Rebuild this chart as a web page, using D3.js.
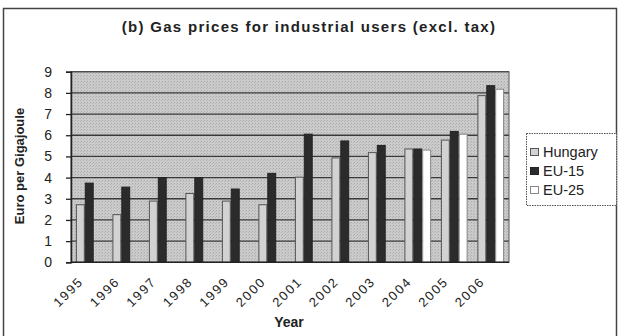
<!DOCTYPE html>
<html><head><meta charset="utf-8">
<script src="https://cdn.jsdelivr.net/npm/d3@7"></script>
<style>body{margin:0;background:#fff;} text{font-family:Arial, "Liberation Sans", sans-serif;}</style>
</head><body>
<svg id="c" width="619" height="336"></svg>
<script>
const years = ["1995","1996","1997","1998","1999","2000","2001","2002","2003","2004","2005","2006"];
const seriesNames = ["Hungary","EU-15","EU-25"];
const hungary = [2.72,2.25,2.89,3.25,2.89,2.72,4.02,4.93,5.18,5.35,5.77,7.87];
const eu15 = [3.74,3.55,4.0,4.0,3.46,4.2,6.05,5.73,5.52,5.35,6.18,8.34];
const eu25 = [null,null,null,null,null,null,null,null,null,5.3,6.05,8.17];
const yTicks = [0,1,2,3,4,5,6,7,8,9];
const title = "(b) Gas prices for industrial users (excl. tax)";
const yTitle = "Euro per Gigajoule";
const xTitle = "Year";

const fills = ["#d2d2d2","#2b2b2b","#ffffff"];
const strokes = ["#555","#222","#888"];
const svg = d3.select("#c");

const defs = svg.append("defs");
const pat = defs.append("pattern").attr("id","bg").attr("width",3).attr("height",3).attr("patternUnits","userSpaceOnUse");
pat.append("rect").attr("width",3).attr("height",3).attr("fill","#cbcbcb");
pat.append("rect").attr("width",1).attr("height",1).attr("fill","#ababab");
pat.append("rect").attr("x",2).attr("y",1).attr("width",1).attr("height",1).attr("fill","#b5b5b5");

svg.append("rect").attr("x",3.5).attr("y",8.5).attr("width",613).attr("height",340)
  .attr("fill","none").attr("stroke","#444").attr("stroke-width",1.5);

const L=71, R=509, T=71.7, B=262.3;
const x = d3.scaleBand().domain(years).range([L,R]).paddingInner(0).paddingOuter(0);
const y = d3.scaleLinear().domain([0,9]).range([B,T]);
const inner = d3.scaleBand().domain(seriesNames).range([0,x.bandwidth()]).paddingInner(0).paddingOuter(0.55);

svg.append("rect").attr("x",L).attr("y",T).attr("width",R-L).attr("height",B-T).attr("fill","url(#bg)");

svg.append("g").selectAll("line").data(yTicks.filter(d=>d>0)).join("line")
  .attr("x1",L).attr("x2",R).attr("y1",d=>y(d)).attr("y2",d=>y(d))
  .attr("stroke","#3a3a3a").attr("stroke-width",1.3);
svg.append("rect").attr("x",L).attr("y",T).attr("width",R-L).attr("height",B-T)
  .attr("fill","none").attr("stroke","#555").attr("stroke-width",1);

const data = [hungary,eu15,eu25];
seriesNames.forEach((s,i)=>{
  svg.append("g").selectAll("rect").data(years.map((yr,j)=>({yr,v:data[i][j]})).filter(d=>d.v!=null)).join("rect")
    .attr("x",d=>x(d.yr)+inner(s)+0.5).attr("width",inner.bandwidth()-1)
    .attr("y",d=>y(d.v)).attr("height",d=>B-y(d.v))
    .attr("fill",fills[i]).attr("stroke",strokes[i]).attr("stroke-width",1);
});

const ya = svg.append("g").attr("transform",`translate(${L},0)`)
  .call(d3.axisLeft(y).tickValues(yTicks).tickSize(5).tickPadding(14).tickFormat(d3.format("d")));
ya.select(".domain").attr("stroke","#222").attr("stroke-width",1.5);
ya.selectAll(".tick line").attr("stroke","#222").attr("stroke-width",1.3);
ya.selectAll("text").attr("font-size",14).attr("fill","#222").attr("font-family","Arial, 'Liberation Sans', sans-serif");

svg.append("line").attr("x1",L).attr("x2",R).attr("y1",B).attr("y2",B).attr("stroke","#222").attr("stroke-width",1.5);

svg.append("g").selectAll("text").data(years).join("text")
  .attr("transform",d=>`translate(${x(d)+x.bandwidth()/2-5},${B+20}) rotate(-45)`)
  .attr("text-anchor","end").attr("font-size",13).attr("letter-spacing","1.8px").attr("fill","#222")
  .text(d=>d);

svg.append("text").attr("x",309).attr("y",32).attr("text-anchor","middle")
  .attr("font-size",15).attr("font-weight","bold").attr("letter-spacing","1.3px").attr("fill","#222").text(title);
svg.append("text").attr("transform",`translate(24,${(T+B)/2-1}) rotate(-90)`).attr("text-anchor","middle")
  .attr("font-size",13).attr("font-weight","bold").attr("fill","#222").text(yTitle);
svg.append("text").attr("x",289).attr("y",327).attr("text-anchor","middle")
  .attr("font-size",14).attr("font-weight","bold").attr("fill","#222").text(xTitle);

const lg = svg.append("g");
lg.append("rect").attr("x",526.5).attr("y",133.5).attr("width",90).attr("height",72)
  .attr("fill","#fff").attr("stroke","#555").attr("stroke-dasharray","1.5,1");
seriesNames.forEach((s,i)=>{
  const cy = 152 + i*19;
  lg.append("rect").attr("x",530.5).attr("y",cy-3.5).attr("width",8).attr("height",7)
    .attr("fill",fills[i]).attr("stroke",strokes[i]);
  lg.append("text").attr("x",543).attr("y",cy+5).attr("font-size",14.5).attr("fill","#222").text(s);
});
</script>
</body></html>
